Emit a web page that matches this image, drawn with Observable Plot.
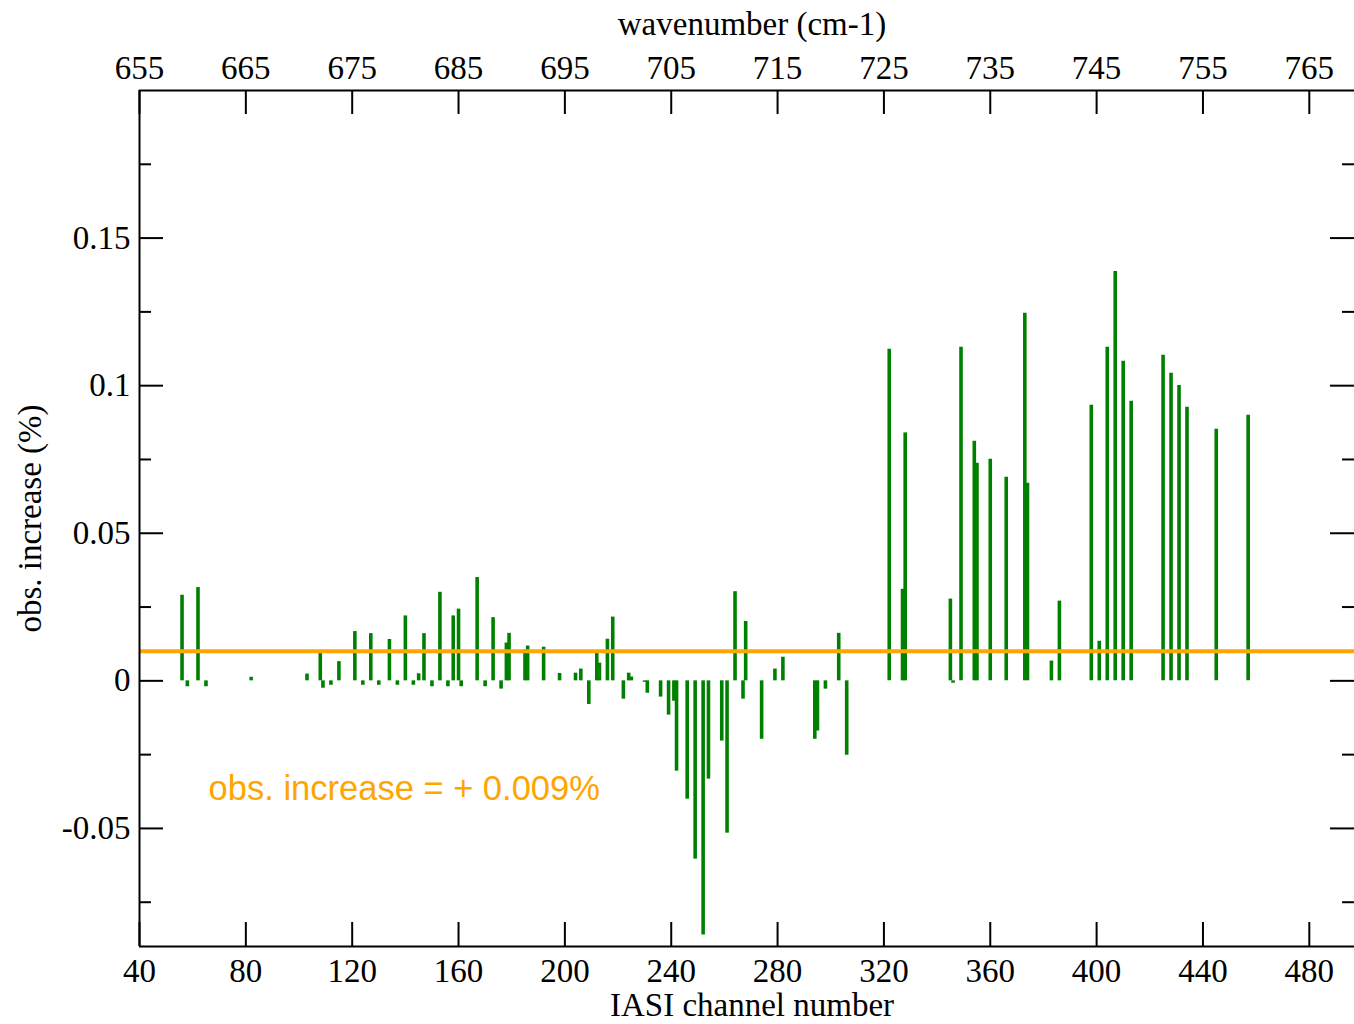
<!DOCTYPE html>
<html>
<head>
<meta charset="utf-8">
<script src="https://cdn.jsdelivr.net/npm/d3@7"></script>
<script src="https://cdn.jsdelivr.net/npm/@observablehq/plot@0.6"></script>
<style>
  html, body { margin: 0; padding: 0; background: #ffffff; overflow: hidden; }
  #chart svg { display: block; }
</style>
</head>
<body>
<div id="chart"></div>
<script>
// ---- data ----
const channels = [56, 58, 62, 65, 82, 103, 108, 109, 112, 115, 121, 124, 127, 130, 134, 137, 140, 143, 145, 147,
  150, 153, 156, 158, 160, 161, 167, 170, 173, 176, 178, 179, 185, 186, 192, 198, 204, 206, 209, 212,
  213, 216, 218, 222, 224, 225, 230, 231, 236, 239, 241, 242, 246, 249, 252, 254, 259, 261, 264, 267,
  268, 274, 279, 282, 294, 295, 298, 303, 306, 322, 327, 328, 345, 346, 349, 354, 355, 360, 366, 373,
  374, 383, 386, 398, 401, 404, 407, 410, 413, 425, 428, 431, 434, 445, 457];
const increases = [0.029, -0.002, 0.0316, -0.002, 0.0012, 0.0023, 0.0095, -0.0025, -0.0015, 0.0065, 0.0167, -0.0015, 0.016, -0.0015, 0.014, -0.0015, 0.022, -0.0015, 0.0024, 0.016,
  -0.002, 0.030, -0.002, 0.022, 0.0243, -0.002, 0.035, -0.002, 0.0214, -0.0028, 0.0128, 0.0161, 0.0105, 0.0118, 0.0114, 0.0025, 0.0026, 0.004, -0.008, 0.0095,
  0.006, 0.0141, 0.0216, -0.0062, 0.0026, 0.0013, -0.0005, -0.0042, -0.0055, -0.0116, -0.0069, -0.0306, -0.0401, -0.0604, -0.0861, -0.0333, -0.0204, -0.0516, 0.0302, -0.0062,
  0.0201, -0.0198, 0.004, 0.008, -0.0198, -0.017, -0.0028, 0.0161, -0.0252, 0.1123, 0.031, 0.084, 0.0277, -0.0008, 0.113, 0.0812, 0.0737, 0.0751, 0.069, 0.1245,
  0.0669, 0.0067, 0.027, 0.0934, 0.0134, 0.113, 0.1387, 0.1083, 0.0947, 0.1103, 0.1042, 0.1001, 0.0927, 0.0852, 0.09];
const meanIncrease = [0.01];
const annotationText = ["obs. increase = + 0.009%"];
const annotationChannel = 66;
const annotationValue = -0.0366;
const xTicks = [40, 80, 120, 160, 200, 240, 280, 320, 360, 400, 440, 480];
const yTicks = [-0.05, 0, 0.05, 0.1, 0.15];
const yMinorTicks = [-0.075, -0.025, 0.025, 0.075, 0.125, 0.175];
const xDomain = [40, 497];
const yDomain = [-0.09, 0.2];
const xLabel = "IASI channel number";
const topLabel = "wavenumber (cm-1)";
const yLabel = "obs. increase (%)";
const toWavenumber = ch => 645 + ch / 4;

// ---- layout ----
const W = 1354, H = 1024;
const mT = 90, mB = 78, mL = 139, mR = 0;
const innerW = W - mL - mR, innerH = H - mT - mB;
const major = 24, minor = 12;
const serif = "'Liberation Serif', 'Times New Roman', serif";
const sans = "'Liberation Sans', Arial, Helvetica, sans-serif";

const bars = channels.map((c, i) => ({channel: c, value: increases[i]}));

const chart = Plot.plot({
  width: W,
  height: H,
  marginTop: mT,
  marginBottom: mB,
  marginLeft: mL,
  marginRight: mR,
  style: {fontFamily: serif, fontSize: "33px", background: "#ffffff", color: "#000000"},
  x: {domain: xDomain},
  y: {domain: yDomain},
  marks: [
    Plot.ruleX(bars, {x: "channel", y1: 0, y2: "value", stroke: "#008000", strokeWidth: 3.6}),
    Plot.ruleY(meanIncrease, {y: d => d, stroke: "#FFA500", strokeWidth: 4}),
    Plot.text(annotationText, {x: () => annotationChannel, y: () => annotationValue, text: d => d,
      textAnchor: "start", lineAnchor: "middle", fill: "#FFA500", fontFamily: sans, fontSize: 34.5}),
    // ticks (inward)
    Plot.tickX(xTicks, {x: d => d, insetTop: innerH - major, stroke: "black", strokeWidth: 2}),
    Plot.tickX(xTicks, {x: d => d, insetBottom: innerH - major, stroke: "black", strokeWidth: 2}),
    Plot.tickY(yTicks, {y: d => d, insetRight: innerW - major, stroke: "black", strokeWidth: 2}),
    Plot.tickY(yTicks, {y: d => d, insetLeft: innerW - major, stroke: "black", strokeWidth: 2}),
    Plot.tickY(yMinorTicks, {y: d => d, insetRight: innerW - minor, stroke: "black", strokeWidth: 2}),
    Plot.tickY(yMinorTicks, {y: d => d, insetLeft: innerW - minor, stroke: "black", strokeWidth: 2}),
    // frame (top, bottom, left; the right side lies at the picture's edge)
    Plot.ruleY(yDomain, {y: d => d, stroke: "black", strokeWidth: 2}),
    Plot.ruleX([xDomain[0]], {x: d => d, stroke: "black", strokeWidth: 2}),
    // tick labels
    Plot.axisX({anchor: "bottom", ticks: xTicks, tickSize: 0, tickPadding: 12, tickFormat: d => String(d), label: null}),
    Plot.axisX({anchor: "top", ticks: xTicks, tickSize: 0, tickPadding: 12, tickFormat: d => String(toWavenumber(d)), label: null}),
    Plot.axisY({anchor: "left", ticks: yTicks, tickSize: 0, tickPadding: 9, tickFormat: d => String(d), label: null}),
    // axis titles
    Plot.text([xLabel], {frameAnchor: "bottom", dx: 5, dy: 59, text: d => d, textAnchor: "middle", lineAnchor: "middle"}),
    Plot.text([topLabel], {frameAnchor: "top", dx: 5, dy: -66, text: d => d, textAnchor: "middle", lineAnchor: "middle"}),
    Plot.text([yLabel], {frameAnchor: "left", dx: -109, rotate: -90, text: d => d, textAnchor: "middle", lineAnchor: "middle"})
  ]
});
document.getElementById("chart").appendChild(chart);
</script>
</body>
</html>
